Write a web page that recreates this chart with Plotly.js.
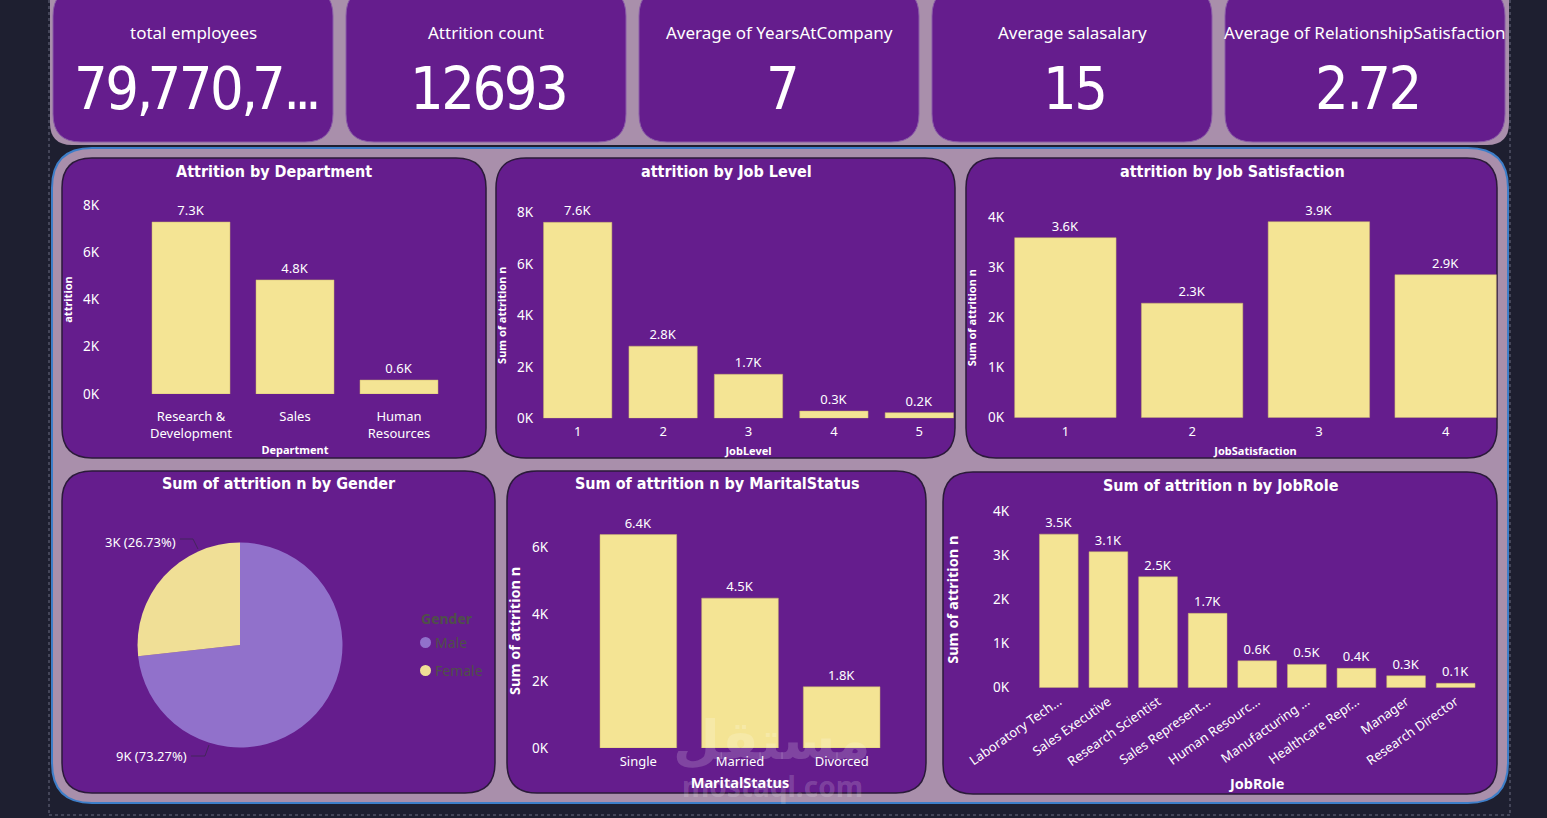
<!DOCTYPE html>
<html><head><meta charset="utf-8">
<script src="https://cdn.plot.ly/plotly-3.0.1.min.js"></script>
<style>html,body{margin:0;padding:0;background:#1e1f30;overflow:hidden}#chart{width:1547px;height:818px}</style>
</head><body><div id="chart"></div>
<script>
// ---------- data ----------
const kpiTitles = ['total employees','Attrition count','Average of YearsAtCompany','Average salasalary','Average of RelationshipSatisfaction'];
const kpiValues = ['79,770,7...','12693','7','15','2.72'];

const deptCategories = ['Research & Development','Sales','Human Resources'];
const deptTickLabels = ['Research &<br>Development','Sales','Human<br>Resources'];
const deptAttrition = [7280, 4830, 590];
const deptYTicks = [0, 2000, 4000, 6000, 8000];

const jobLevels = ['1','2','3','4','5'];
const jobLevelAttrition = [7610, 2800, 1710, 280, 220];
const jobLevelYTicks = [0, 2000, 4000, 6000, 8000];

const jobSatLevels = ['1','2','3','4'];
const jobSatAttrition = [3600, 2290, 3920, 2860];
const jobSatYTicks = [0, 1000, 2000, 3000, 4000];

const genders = ['Male','Female'];
const genderAttrition = [9300, 3393];

const maritalStatuses = ['Single','Married','Divorced'];
const maritalAttrition = [6380, 4480, 1830];
const maritalYTicks = [0, 2000, 4000, 6000];

const jobRoles = ['Laboratory Technician','Sales Executive','Research Scientist','Sales Representative','Human Resources','Manufacturing Director','Healthcare Representative','Manager','Research Director'];
const jobRoleTickLabels = ['Laboratory Tech...','Sales Executive','Research Scientist','Sales Represent...','Human Resourc...','Manufacturing ...','Healthcare Repr...','Manager','Research Director'];
const jobRoleAttrition = [3490, 3090, 2520, 1690, 610, 530, 440, 270, 100];
const jobRoleYTicks = [0, 1000, 2000, 3000, 4000];

// ---------- helpers ----------
const W = 1547, H = 818;
const X = x => x / W;
const Y = y => 1 - y / H;
const PURPLE = '#651d8d', MAUVE = '#a98fab', BAR = '#f4e494';
const BODY = '"Noto Sans", "Open Sans", sans-serif';
const TITLE = '"DejaVu Sans Condensed", "DejaVu Sans", sans-serif';
const BIG = '"DejaVu Sans Condensed", "DejaVu Sans", sans-serif';
const fmtK = v => (v / 1000).toFixed(1) + 'K';
const tickK = v => (v / 1000) + 'K';
const tightText = s => s.split('').map(ch =>
  `<span style="letter-spacing:${/[.,]/.test(ch) ? -6 : -2.5}px">${ch}</span>`).join('');

function rr(x0, y0, x1, y1, r) {
  const p = (x, y) => X(x).toFixed(5) + ',' + Y(y).toFixed(5);
  return `M${p(x0 + r, y0)} L${p(x1 - r, y0)} Q${p(x1, y0)} ${p(x1, y0 + r)} L${p(x1, y1 - r)} Q${p(x1, y1)} ${p(x1 - r, y1)} L${p(x0 + r, y1)} Q${p(x0, y1)} ${p(x0, y1 - r)} L${p(x0, y0 + r)} Q${p(x0, y0)} ${p(x0 + r, y0)} Z`;
}
const shapes = [];
const annotations = [];
function panel(x0, y0, x1, y1, r, fill, lineColor, lineWidth) {
  shapes.push({type: 'path', xref: 'paper', yref: 'paper', layer: 'below', path: rr(x0, y0, x1, y1, r),
    fillcolor: fill, line: {color: lineColor || 'rgba(0,0,0,0)', width: lineWidth || 0}});
}
function ann(text, x, y, font, xanchor, yanchor) {
  annotations.push({text, x: X(x), y: Y(y), xref: 'paper', yref: 'paper', showarrow: false,
    xanchor: xanchor || 'center', yanchor: yanchor || 'middle', font});
}

// ---------- background ----------
[[49, 0, 49, 815], [1510, 0, 1510, 815], [49, 815, 1510, 815]].forEach(l => {
  shapes.push({type: 'line', xref: 'paper', yref: 'paper', layer: 'below', x0: X(l[0]), y0: Y(l[1]), x1: X(l[2]), y1: Y(l[3]),
    line: {color: '#6b6d80', width: 1, dash: 'dot'}});
});
panel(50, -30, 1509, 145, 22, MAUVE);
panel(52, 148, 1508, 803, 40, MAUVE, '#3d7ec9', 2);

// KPI cards
const kpiX0 = [53, 346, 639, 932, 1225];
kpiX0.forEach((x0, i) => {
  panel(x0, -12, x0 + 280, 142, 28, PURPLE, '#8a5aa8', 1);
  ann(kpiTitles[i], x0 + 140, 33, {family: BODY, size: 17, color: '#ffffff'});
  ann(tightText(kpiValues[i]), x0 + 142, 89, {family: BIG, size: 59, color: '#ffffff'});
});

// chart cards
const cards = [
  [62, 158, 486, 458, 'Attrition by Department', 274, 171],
  [496, 158, 955, 458, 'attrition by Job Level', 726, 171],
  [966, 158, 1497, 458, 'attrition by Job Satisfaction', 1232, 171],
  [62, 471, 495, 793, 'Sum of attrition n by Gender', 279, 483],
  [507, 471, 926, 793, 'Sum of attrition n by MaritalStatus', 717, 483],
  [943, 472, 1497, 794, 'Sum of attrition n by JobRole', 1221, 485]
];
cards.forEach(c => {
  panel(c[0], c[1], c[2], c[3], 30, PURPLE, '#2b1a3a', 1.5);
  ann(c[4], c[5], c[6], {family: TITLE, size: 16, color: '#ffffff', weight: 700});
});

// ---------- bar charts ----------
const charts = [
  {cats: deptCategories, ticks: deptTickLabels, vals: deptAttrition, yt: deptYTicks, xPx: [139, 451], y0: 394, refPx: 205, refVal: 8000, yMax: 8000,
   axisPx: 99, width: 0.75, yTitle: 'attrition', yts: 11, ytStand: 7, xTitle: 'Department', xts: 11, xtStand: 5, tickStand: 13, angle: 0},
  {cats: jobLevels, ticks: jobLevels, vals: jobLevelAttrition, yt: jobLevelYTicks, xPx: [535, 962], y0: 418.3, refPx: 212.3, refVal: 8000, yMax: 8000,
   axisPx: 533, width: 0.8, yTitle: 'Sum of attrition n', yts: 11, ytStand: 7, xTitle: 'JobLevel', xts: 11, xtStand: 8, tickStand: 4, angle: 0},
  {cats: jobSatLevels, ticks: jobSatLevels, vals: jobSatAttrition, yt: jobSatYTicks, xPx: [1002, 1509], y0: 417.7, refPx: 217.7, refVal: 4000, yMax: 4000,
   axisPx: 1004, width: 0.8, yTitle: 'Sum of attrition n', yts: 11, ytStand: 8, xTitle: 'JobSatisfaction', xts: 11, xtStand: 8, tickStand: 4, angle: 0},
  {cats: maritalStatuses, ticks: maritalStatuses, vals: maritalAttrition, yt: maritalYTicks, xPx: [587.5, 892.5], y0: 748, refPx: 547.3, refVal: 6000, yMax: 7000,
   axisPx: 548, width: 0.754, yTitle: 'Sum of attrition n', yts: 14.5, ytStand: 6, xTitle: 'MaritalStatus', xts: 14.5, xtStand: 8, tickStand: 4, angle: 0},
  {cats: jobRoles, ticks: jobRoleTickLabels, vals: jobRoleAttrition, yt: jobRoleYTicks, xPx: [1034, 1480.5], y0: 687.7, refPx: 511.7, refVal: 4000, yMax: 4000,
   axisPx: 1009, width: 0.78, yTitle: 'Sum of attrition n', yts: 14.5, ytStand: 29, xTitle: 'JobRole', xts: 14.5, xtStand: 9, tickStand: 3, angle: -35}
];

const traces = [];
const layout = {
  width: W, height: H, margin: {l: 0, r: 0, t: 0, b: 0, pad: 0}, autosize: false,
  paper_bgcolor: '#1e1f30', plot_bgcolor: 'rgba(0,0,0,0)',
  font: {family: BODY, color: '#ffffff', size: 13},
  showlegend: false, shapes, annotations
};

charts.forEach((c, i) => {
  const n = i === 0 ? '' : String(i + 1);
  const ppu = (c.y0 - c.refPx) / c.refVal;
  const topPx = c.y0 - c.yMax * ppu;
  traces.push({
    type: 'bar', x: c.cats, y: c.vals, xaxis: 'x' + n, yaxis: 'y' + n, width: c.width,
    marker: {color: BAR, line: {color: '#c9b36a', width: 0.5}},
    text: c.vals.map(fmtK), textposition: 'outside', cliponaxis: false, constraintext: 'none',
    textfont: {family: BODY, size: 13, color: '#ffffff'}, hoverinfo: 'skip'
  });
  layout['xaxis' + n] = {
    domain: [X(c.xPx[0]), X(c.xPx[1])], anchor: 'y' + n, type: 'category', range: [-0.5, c.cats.length - 0.5],
    tickvals: c.cats, ticktext: c.ticks, tickangle: c.angle, ticks: '', ticklabelstandoff: c.tickStand,
    tickfont: {family: BODY, size: 13, color: '#ffffff'},
    showgrid: false, zeroline: false, showline: false, automargin: false, fixedrange: true,
    title: {text: c.xTitle, standoff: c.xtStand, font: {family: BODY, size: c.xts, color: '#ffffff', weight: 700}}
  };
  layout['yaxis' + n] = {
    domain: [Y(c.y0), Y(topPx)], anchor: 'free', position: X(c.axisPx), range: [0, c.yMax],
    tickvals: c.yt, ticktext: c.yt.map(tickK), ticks: '',
    tickfont: {family: BODY, size: 13.5, color: '#ffffff'},
    showgrid: false, zeroline: false, showline: false, automargin: false, fixedrange: true,
    title: {text: c.yTitle, standoff: c.ytStand, font: {family: BODY, size: c.yts, color: '#ffffff', weight: 700}}
  };
});

// ---------- pie ----------
traces.push({
  type: 'pie', labels: genders, values: genderAttrition, sort: false, direction: 'clockwise', rotation: 0,
  marker: {colors: ['#9171cb', '#f0df96'], line: {width: 0}}, textinfo: 'none', textposition: 'none',
  domain: {x: [X(137.5), X(342.5)], y: [Y(747.5), Y(542.5)]}, hoverinfo: 'skip', showlegend: false
});
const gTotal = genderAttrition.reduce((a, b) => a + b, 0);
const gText = genderAttrition.map(v => Math.round(v / 1000) + 'K (' + (v / gTotal * 100).toFixed(2) + '%)');
ann(gText[1], 140, 542, {family: BODY, size: 13, color: '#ffffff'});
ann(gText[0], 151, 756, {family: BODY, size: 13, color: '#ffffff'});
const lp = (pts) => 'M' + pts.map(p => X(p[0]).toFixed(5) + ',' + Y(p[1]).toFixed(5)).join(' L');
shapes.push({type: 'path', xref: 'paper', yref: 'paper', path: lp([[180, 539], [193, 539], [198, 549]]), line: {color: 'rgba(60,40,80,0.8)', width: 1}});
shapes.push({type: 'path', xref: 'paper', yref: 'paper', path: lp([[191, 756], [205, 756], [209, 745]]), line: {color: 'rgba(60,40,80,0.8)', width: 1}});
// legend
const LEG = '#4f5049';
ann('Gender', 419, 618, {family: BODY, size: 14, color: LEG, weight: 700}, 'left');
const legColors = ['#9171cb', '#f0df96'];
genders.forEach((g, i) => {
  const cy = 642.5 + i * 28;
  shapes.push({type: 'circle', xref: 'paper', yref: 'paper', x0: X(420), x1: X(431), y0: Y(cy + 5.5), y1: Y(cy - 5.5),
    fillcolor: legColors[i], line: {width: 0}});
  ann(g, 433, cy, {family: BODY, size: 14, color: LEG}, 'left');
});

// watermark
ann('مستقل', 772, 740, {family: '"DejaVu Sans", sans-serif', size: 54, color: 'rgba(255,255,255,0.18)', weight: 700});
ann('mostaql.com', 772, 786, {family: BODY, size: 28, color: 'rgba(255,255,255,0.18)', weight: 700});

Plotly.newPlot('chart', traces, layout, {staticPlot: true, displayModeBar: false});
</script>
</body></html>
